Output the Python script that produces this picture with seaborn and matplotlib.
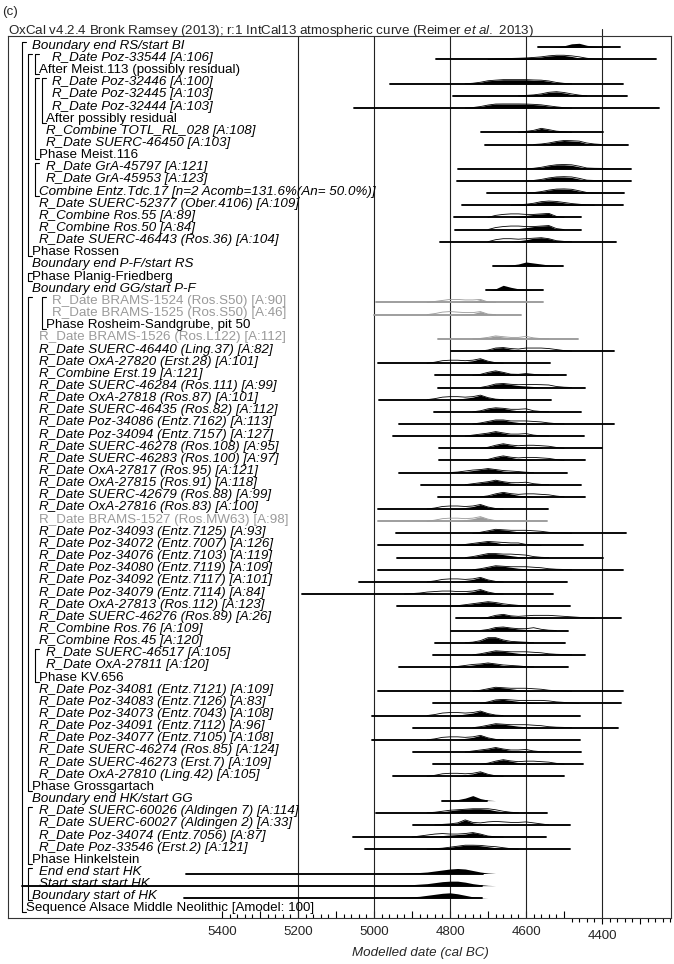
import numpy as np
import pandas as pd
import matplotlib
matplotlib.use("Agg")
import matplotlib.pyplot as plt
import matplotlib.transforms as mtrans
import seaborn as sns

# ---------------- data ----------------
labels = [
    "Boundary end RS/start BI",
    "R_Date Poz-33544 [A:106]",
    "After Meist.113 (possibly residual)",
    "R_Date Poz-32446 [A:100]",
    "R_Date Poz-32445 [A:103]",
    "R_Date Poz-32444 [A:103]",
    "After possibly residual",
    "R_Combine TOTL_RL_028 [A:108]",
    "R_Date SUERC-46450 [A:103]",
    "Phase Meist.116",
    "R_Date GrA-45797 [A:121]",
    "R_Date GrA-45953 [A:123]",
    "Combine Entz.Tdc.17 [n=2 Acomb=131.6%(An= 50.0%)]",
    "R_Date SUERC-52377 (Ober.4106) [A:109]",
    "R_Combine Ros.55 [A:89]",
    "R_Combine Ros.50 [A:84]",
    "R_Date SUERC-46443 (Ros.36) [A:104]",
    "Phase Rossen",
    "Boundary end P-F/start RS",
    "Phase Planig-Friedberg",
    "Boundary end GG/start P-F",
    "R_Date BRAMS-1524 (Ros.S50) [A:90]",
    "R_Date BRAMS-1525 (Ros.S50) [A:46]",
    "Phase Rosheim-Sandgrube, pit 50",
    "R_Date BRAMS-1526 (Ros.L122) [A:112]",
    "R_Date SUERC-46440 (Ling.37) [A:82]",
    "R_Date OxA-27820 (Erst.28) [A:101]",
    "R_Combine Erst.19 [A:121]",
    "R_Date SUERC-46284 (Ros.111) [A:99]",
    "R_Date OxA-27818 (Ros.87) [A:101]",
    "R_Date SUERC-46435 (Ros.82) [A:112]",
    "R_Date Poz-34086 (Entz.7162) [A:113]",
    "R_Date Poz-34094 (Entz.7157) [A:127]",
    "R_Date SUERC-46278 (Ros.108) [A:95]",
    "R_Date SUERC-46283 (Ros.100) [A:97]",
    "R_Date OxA-27817 (Ros.95) [A:121]",
    "R_Date OxA-27815 (Ros.91) [A:118]",
    "R_Date SUERC-42679 (Ros.88) [A:99]",
    "R_Date OxA-27816 (Ros.83) [A:100]",
    "R_Date BRAMS-1527 (Ros.MW63) [A:98]",
    "R_Date Poz-34093 (Entz.7125) [A:93]",
    "R_Date Poz-34072 (Entz.7007) [A:126]",
    "R_Date Poz-34076 (Entz.7103) [A:119]",
    "R_Date Poz-34080 (Entz.7119) [A:109]",
    "R_Date Poz-34092 (Entz.7117) [A:101]",
    "R_Date Poz-34079 (Entz.7114) [A:84]",
    "R_Date OxA-27813 (Ros.112) [A:123]",
    "R_Date SUERC-46276 (Ros.89) [A:26]",
    "R_Combine Ros.76 [A:109]",
    "R_Combine Ros.45 [A:120]",
    "R_Date SUERC-46517 [A:105]",
    "R_Date OxA-27811 [A:120]",
    "Phase KV.656",
    "R_Date Poz-34081 (Entz.7121) [A:109]",
    "R_Date Poz-34083 (Entz.7126) [A:83]",
    "R_Date Poz-34073 (Entz.7043) [A:108]",
    "R_Date Poz-34091 (Entz.7112) [A:96]",
    "R_Date Poz-34077 (Entz.7105) [A:108]",
    "R_Date SUERC-46274 (Ros.85) [A:124]",
    "R_Date SUERC-46273 (Erst.7) [A:109]",
    "R_Date OxA-27810 (Ling.42) [A:105]",
    "Phase Grossgartach",
    "Boundary end HK/start GG",
    "R_Date SUERC-60026 (Aldingen 7) [A:114]",
    "R_Date SUERC-60027 (Aldingen 2) [A:33]",
    "R_Date Poz-34074 (Entz.7056) [A:87]",
    "R_Date Poz-33546 (Erst.2) [A:121]",
    "Phase Hinkelstein",
    "End end start HK",
    "Start start start HK",
    "Boundary start of HK",
    "Sequence Alsace Middle Neolithic [Amodel: 100]",
]

# nesting depth of each label
depth = [1, 4, 2, 4, 4, 4, 3, 3, 3, 2, 3, 3, 2, 2, 2, 2, 2, 1, 1, 1, 1,
         4, 4, 3] + [2] * 26 + [3, 3, 2] + [2] * 8 + [1, 1, 2, 2, 2, 2, 1, 2, 2, 1, 0]

grey_rows = [21, 22, 24, 39]
upright_prefixes = ("After", "Phase", "Sequence")

# groups drawn as brackets: (first row, label row, depth)
groups = [(0, 71, 0), (1, 17, 1), (1, 2, 2), (3, 9, 2), (3, 6, 3), (10, 12, 2),
          (19, 19, 1), (21, 61, 1), (21, 23, 3), (50, 52, 2), (63, 67, 1), (68, 70, 1)]

# plotted range of each distribution (cal BC): row -> (from, to)
ranges = {
    0: (4568, 4353), 1: (4837, 4259), 3: (4958, 4344), 4: (4791, 4333), 5: (5053, 4250),
    7: (4719, 4397), 8: (4708, 4331), 10: (4778, 4325), 11: (4781, 4325), 12: (4702, 4342),
    13: (4768, 4346), 14: (4790, 4454), 15: (4787, 4456), 16: (4826, 4363), 18: (4686, 4502),
    20: (4705, 4556), 21: (4996, 4555), 22: (5000, 4612), 24: (4831, 4462), 25: (4798, 4369),
    26: (4989, 4537), 27: (4839, 4496), 28: (4831, 4445), 29: (4987, 4535), 30: (4841, 4456),
    31: (4934, 4369), 32: (4951, 4448), 33: (4829, 4401), 34: (4829, 4445), 35: (4933, 4491),
    36: (4876, 4456), 37: (4831, 4445), 38: (4989, 4543), 39: (4990, 4546), 40: (4942, 4338),
    41: (4989, 4451), 42: (4940, 4398), 43: (4989, 4346), 44: (5040, 4491), 45: (5189, 4528),
    46: (4939, 4484), 47: (4784, 4351), 48: (4798, 4490), 49: (4839, 4497), 50: (4846, 4445),
    51: (4934, 4490), 53: (4989, 4346), 54: (4844, 4350), 55: (5004, 4458), 56: (4897, 4357),
    57: (5005, 4458), 58: (4898, 4456), 59: (4844, 4451), 60: (4949, 4500), 62: (4822, 4702),
    63: (4995, 4544), 64: (4897, 4484), 65: (5056, 4548), 66: (5024, 4484), 68: (5495, 4712),
    69: (5926, 4717), 70: (5500, 4717),
}

# modelled (posterior) density, read every 20 years from the first year given
posterior = {
    0: (4540, [0, 0.5, 1.5, 3.5, 4, 2, 1, 0.5, 0]),
    1: (4700, [0, 0.4, 0.7, 1, 1.2, 1.5, 2, 2.5, 3.5, 4, 4, 3, 1.5, 0.5, 0]),
    3: (4760, [0, 0.5, 1.5, 3, 3.5, 4, 4, 4, 4, 3.5, 3.5, 2.5, 1, 0.3, 0]),
    4: (4620, [0, 0.5, 1, 2, 3.5, 4, 3, 1.5, 0.5, 0]),
    5: (4760, [0, 0.5, 1.5, 3, 4, 4, 4, 4, 4, 3.5, 3, 2, 1, 0.3, 0]),
    7: (4620, [0, 1, 2, 4, 2.5, 1, 0.5, 0]),
    8: (4580, [0, 0.5, 1.5, 3, 4, 3.5, 3, 1, 0.3, 0]),
    10: (4600, [0, 0.5, 1.5, 3, 4, 4, 3.5, 2, 0.5, 0.3, 0.3, 0]),
    11: (4600, [0, 0.5, 1.5, 3, 4, 4, 3.5, 2, 0.5, 0.3, 0.3, 0]),
    12: (4600, [0, 0.5, 1.5, 3, 4, 4, 3.5, 2, 0.5, 0.2, 0]),
    13: (4640, [0, 0.5, 1, 2, 3.5, 4, 3.5, 2.5, 1.5, 0.8, 0.3, 0]),
    14: (4640, [0, 1, 2, 3, 3.5, 4, 0.5, 0]),
    15: (4640, [0, 1, 2, 3, 3.5, 4, 0.5, 0]),
    16: (4640, [0, 1, 2, 3.5, 4, 3, 1, 0.3, 0]),
    18: (4660, [0, 1, 2, 4, 3, 2, 1, 0.3, 0]),
    20: (4700, [0, 1.5, 5, 3, 1.5, 0.8, 0.3, 0]),
    21: (4800, [0, 0.3, 0.6, 1, 3, 0.5, 0]),
    22: (4800, [0, 0.3, 0.6, 1, 3, 0.5, 0]),
    24: (4740, [0, 0.5, 1.5, 3, 2, 1, 0.5, 0.3, 0]),
    25: (4720, [0, 1, 3, 3.5, 2, 1, 0.3, 0]),
    26: (4800, [0, 0.5, 1.5, 2.5, 4.5, 2, 0.5, 0]),
    27: (4740, [0, 1, 3, 4.5, 3, 1, 0.5, 0.5, 0.3, 0]),
    28: (4720, [0, 1.5, 3.5, 4, 3, 2, 1.5, 1, 0.5, 0.2, 0]),
    29: (4800, [0, 0.5, 1.5, 2.5, 4.5, 2, 0.5, 0]),
    30: (4740, [0, 1, 3, 4, 3.5, 2, 1, 0.5, 0]),
    31: (4740, [0, 1, 2.5, 4, 4, 2.5, 1.5, 1, 0.5, 0.2, 0]),
    32: (4760, [0, 1, 2, 3, 4.5, 3, 1.5, 0.8, 0.3, 0]),
    33: (4720, [0, 1, 3, 4.5, 3, 1.5, 1, 0.5, 0.2, 0]),
    34: (4720, [0, 1, 3, 4.5, 3, 1.5, 1, 0.5, 0.2, 0]),
    35: (4800, [0, 0.5, 1, 2, 3, 4, 3, 1.5, 0.8, 0.3, 0]),
    36: (4760, [0, 1, 2, 3, 4.5, 3, 1.5, 1, 0.5, 0]),
    37: (4720, [0, 1, 3, 4.5, 3, 1.5, 1, 0.5, 0.2, 0]),
    38: (4800, [0, 0.5, 1.5, 2.5, 4.5, 2, 0.5, 0]),
    39: (4800, [0, 0.5, 1.5, 2.5, 4.5, 2, 0.5, 0]),
    40: (4740, [0, 1, 2.5, 4, 3.5, 2.5, 1.5, 1, 0.5, 0.3, 0]),
    41: (4780, [0, 1, 2, 3, 4, 3, 1.5, 1, 0.5, 0]),
    42: (4760, [0, 1, 2.5, 4, 4, 3, 2, 1, 0.5, 0]),
    43: (4740, [0, 1, 2.5, 4, 3.5, 2.5, 1.5, 1, 0.5, 0.3, 0]),
    44: (4800, [0, 0.5, 1.5, 2.5, 4.5, 2, 0.5, 0]),
    45: (4800, [0, 0.5, 1.5, 2.5, 4.5, 2, 0.5, 0]),
    46: (4800, [0, 0.5, 1.5, 2.5, 3.5, 4.5, 3.5, 2, 1, 0.5, 0]),
    47: (4720, [0, 1, 3, 4, 2.5, 1.5, 1, 1, 0.5, 0.3, 0]),
    48: (4720, [0, 1, 3, 3.5, 2.5, 1.5, 1, 1, 0.5, 0]),
    49: (4760, [0, 0.5, 2, 5, 5, 2.5, 1, 0.5, 0.3, 0]),
    50: (4740, [0, 1, 2.5, 4, 3.5, 2.5, 1.5, 1, 0.5, 0.3, 0]),
    51: (4800, [0, 0.5, 1, 2, 3, 4, 3, 1.5, 0.8, 0.3, 0]),
    53: (4740, [0, 1, 2.5, 4, 3.5, 2.5, 1.5, 1, 0.5, 0.3, 0]),
    54: (4720, [0, 1.5, 3.5, 4, 3, 2, 1.5, 1, 0.5, 0.3, 0]),
    55: (4800, [0, 0.5, 1.5, 2.5, 4.5, 2, 0.5, 0]),
    56: (4740, [0, 1, 2.5, 4, 3.5, 2.5, 1.5, 1, 0.5, 0.3, 0]),
    57: (4800, [0, 0.5, 1.5, 2.5, 4.5, 2, 0.5, 0]),
    58: (4760, [0, 1, 2, 3, 4.5, 3, 1.5, 1, 0.5, 0]),
    59: (4720, [0, 1, 3, 4.5, 3, 1.5, 1, 0.5, 0.2, 0]),
    60: (4800, [0, 0.5, 1.5, 2.5, 4.5, 2, 0.5, 0]),
    62: (4800, [0, 1, 2.5, 5, 2, 0.5, 0]),
    63: (4860, [0, 0.5, 1, 2, 3, 3.5, 4, 4, 3.5, 2, 1, 0.5, 0]),
    64: (4840, [0, 0.5, 1, 2, 5, 2, 1, 0.5, 0.3, 0.2, 0]),
    65: (4900, [0, 0.3, 0.6, 1, 1.5, 2, 2.5, 3, 4.5, 3, 1, 0.3, 0]),
    66: (4860, [0, 0.5, 1, 2, 3, 4, 4, 3.5, 2.5, 1.5, 0.5, 0]),
    68: (4940, [0, 0.3, 0.6, 1, 1.5, 2.5, 3.5, 4.5, 5, 4.5, 3, 1.5, 0.5, 0]),
    69: (4960, [0, 0.3, 0.6, 1, 1.5, 2, 3, 4, 4.5, 4.5, 3.5, 2, 1, 0.3, 0]),
    70: (4960, [0, 0.3, 0.6, 1, 1.5, 2.5, 3.5, 4.5, 5, 4, 2.5, 1, 0.3, 0]),
}

# unmodelled (likelihood) density, outline only
likelihood = {
    1: (4700, [0, 0.4, 0.7, 1, 1.2, 1.5, 2, 2.6, 3.6, 4.2, 4.2, 3.6, 2.6, 1.2, 0.4, 0]),
    3: (4760, [0, 0.5, 1.5, 3, 3.6, 4.1, 4.1, 4.1, 4.1, 3.8, 3.6, 2.8, 1.3, 0.4, 0]),
    4: (4620, [0, 0.5, 1, 2, 3.6, 4.2, 3.4, 2, 0.8, 0]),
    5: (4760, [0, 0.5, 1.5, 3, 4, 4.1, 4.1, 4.1, 4, 3.7, 3.2, 2.2, 1.2, 0.4, 0]),
    7: (4620, [0, 1, 2, 4, 2.7, 1.2, 0.6, 0]),
    8: (4580, [0, 0.5, 1.5, 3, 4, 3.8, 3.4, 1.5, 0.5, 0]),
    10: (4600, [0, 0.5, 1.5, 3, 4, 4.3, 4, 2.6, 0.8, 0.5, 0.4, 0]),
    11: (4600, [0, 0.5, 1.5, 3, 4, 4.3, 4, 2.6, 0.8, 0.5, 0.4, 0]),
    12: (4600, [0, 0.5, 1.5, 3, 4, 4.2, 3.8, 2.3, 0.6, 0.2, 0]),
    13: (4640, [0, 0.5, 1, 2, 3.6, 4.2, 3.8, 2.8, 1.7, 1, 0.4, 0]),
    14: (4700, [0, 2, 3, 3.5, 3.5, 3, 3, 3.5, 4, 1, 0]),
    15: (4700, [0, 2, 3, 3.5, 3.5, 3, 3, 3.5, 4, 1, 0]),
    16: (4700, [0, 2, 3, 3, 2.5, 3, 3.5, 4, 3, 1, 0.3, 0]),
    21: (4860, [0, 1, 2, 3, 3, 2.5, 2.5, 3, 0.5, 0]),
    22: (4860, [0, 1, 2.5, 3, 2.5, 2, 2, 3, 0.5, 0]),
    24: (4740, [0, 0.5, 1.5, 3, 2.2, 1.5, 1.5, 2.5, 1, 0.3, 0]),
    25: (4720, [0, 1, 3, 3.5, 2.5, 2, 3, 3, 3, 2.5, 1.5, 0.5, 0]),
    26: (4860, [0, 1, 2.5, 3, 3, 2.5, 3, 4.5, 2, 0.5, 0]),
    27: (4740, [0, 1, 3, 4.5, 3, 1.2, 1, 1.8, 1, 0.3, 0]),
    28: (4720, [0, 1.5, 3.5, 4, 3.2, 2.8, 3, 3, 2.8, 2.5, 1, 0.3, 0]),
    29: (4860, [0, 1, 2.5, 3, 3, 2.5, 3, 4.5, 2, 0.5, 0]),
    30: (4740, [0, 1, 3, 4, 3.5, 2.5, 2.5, 3, 1, 0.3, 0]),
    31: (4740, [0, 1, 2.5, 4, 4, 3, 3, 3, 2.5, 2, 1, 0.3, 0]),
    32: (4760, [0, 1, 2, 3, 4.5, 3.2, 2, 2, 2.5, 1, 0.3, 0]),
    33: (4720, [0, 1, 3, 4.5, 3.2, 2.5, 3, 3, 2.5, 2, 0.8, 0]),
    34: (4720, [0, 1, 3, 4.5, 3.2, 2.5, 3, 3, 2.5, 2, 0.8, 0]),
    35: (4800, [0, 0.5, 1.5, 2.5, 3, 4, 3, 2, 1.5, 1, 0.3, 0]),
    36: (4760, [0, 1, 2, 3, 4.5, 3, 2, 2, 2.5, 1, 0.3, 0]),
    37: (4720, [0, 1, 3, 4.5, 3.2, 2.5, 3, 3, 2.5, 2, 0.8, 0]),
    38: (4860, [0, 1, 2.5, 3, 3, 2.5, 3, 4.5, 2, 0.5, 0]),
    39: (4860, [0, 1, 2.5, 3, 3, 2.5, 3, 4.5, 2, 0.5, 0]),
    40: (4740, [0, 1, 2.5, 4, 3.5, 3, 3, 3, 2.5, 2, 1, 0.5, 0.3, 0]),
    41: (4780, [0, 1, 2, 3, 4, 3.5, 3, 2.5, 2.5, 1, 0.3, 0]),
    42: (4760, [0, 1, 2.5, 4, 4, 3.5, 3.5, 3, 2.5, 1, 0.3, 0]),
    43: (4740, [0, 1, 2.5, 4, 3.5, 3, 3, 3, 2.5, 2, 1, 0.5, 0.3, 0]),
    44: (4860, [0, 1, 2.5, 3, 3, 2.5, 3, 4.5, 2, 0.5, 0]),
    45: (4920, [0, 0.5, 1, 2, 2.5, 3, 3, 2.5, 2.5, 3, 4.5, 2, 0.5, 0]),
    46: (4800, [0, 0.5, 1.5, 2.5, 3.5, 4.5, 3.7, 2.4, 1.5, 0.8, 0]),
    47: (4720, [0, 1, 3, 4, 2.5, 2, 2.5, 3, 3, 3, 2.5, 2, 1.5, 1, 0.5, 0]),
    48: (4720, [0, 1, 3, 3.5, 2.5, 1.8, 1.8, 2.8, 1.2, 0.3, 0]),
    49: (4760, [0, 0.5, 2, 5, 5, 2.7, 1.3, 0.8, 0.4, 0]),
    50: (4740, [0, 1, 2.5, 4, 3.5, 3, 3, 3, 2.5, 2, 1, 0.5, 0.3, 0]),
    51: (4800, [0, 0.5, 1.5, 2.5, 3, 4, 3, 2, 1.5, 1, 0.3, 0]),
    53: (4740, [0, 1, 2.5, 4, 3.5, 3, 3, 3, 2.5, 2, 1, 0.5, 0.3, 0]),
    54: (4720, [0, 1.5, 3.5, 4, 3.5, 3, 3, 3, 3, 2.5, 1.5, 1, 0.5, 0]),
    55: (4860, [0, 1, 2.5, 3, 3, 2.5, 3, 4.5, 2, 0.5, 0]),
    56: (4740, [0, 1, 2.5, 4, 3.5, 3, 3, 3, 2.5, 2, 1, 0.5, 0.3, 0]),
    57: (4860, [0, 1, 2.5, 3, 3, 2.5, 3, 4.5, 2, 0.5, 0]),
    58: (4760, [0, 1, 2, 3, 4.5, 3, 2, 2, 2.5, 1, 0.3, 0]),
    59: (4720, [0, 1, 3, 4.5, 3.2, 2.5, 3, 3, 2.5, 2, 0.8, 0]),
    60: (4860, [0, 1, 2.5, 3, 3, 2.5, 3, 4.5, 2, 0.5, 0]),
    63: (4860, [0, 0.5, 1.5, 2.5, 3, 3.5, 4, 4, 4, 3, 1.5, 0.5, 0]),
    64: (4840, [0, 0.5, 1, 2, 5, 2.5, 2, 3, 3.5, 3, 2.5, 2.5, 3, 2, 1, 0]),
    65: (4900, [0, 1, 2, 3, 3.5, 3, 3, 3.5, 4.5, 3, 1, 0.3, 0]),
    66: (4860, [0, 0.5, 1, 2, 3, 4, 4, 3.8, 3, 2.5, 1.5, 0.5, 0]),
}

grid_years = [5200, 5000, 4800, 4600, 4400]
tick_labels_left = {5400: "5400", 5200: "5200", 5000: "5000", 4800: "4800", 4600: "4600"}
tick_labels_right = {4400: "4400"}
title_text = "OxCal v4.2.4 Bronk Ramsey (2013); r:1 IntCal13 atmospheric curve (Reimer $\\mathit{et\\ al.}$ 2013)"
panel_text = "(c)"
xlabel_text = "Modelled date (cal BC)"

# ---------------- style / layout ----------------
sns.set_style("white")
plt.rcParams["font.family"] = ["Liberation Sans", "DejaVu Sans"]
plt.rcParams["mathtext.fontset"] = "custom"
plt.rcParams["mathtext.rm"] = "Liberation Sans"
plt.rcParams["mathtext.it"] = "Liberation Sans:italic"

FW, FH = 674, 964
AX_L, AX_R, AX_T, AX_B = 8, 671, 36, 918
ROW0, ROW_STEP = 47.3, 12.15
X5200, PX_PER_YEAR = 298.0, 0.38
FS = 9.6
H_SCALE = 1.0 / ROW_STEP
GREY = "#9a9a9a"

fig = plt.figure(figsize=(FW / 100, FH / 100), dpi=100)
ax = fig.add_axes([AX_L / FW, 1 - AX_B / FH, (AX_R - AX_L) / FW, (AX_B - AX_T) / FH])

def px2ax(px):
    return (px - AX_L) / (AX_R - AX_L)

blend = mtrans.blended_transform_factory(ax.transAxes, ax.transData)

# range lines through seaborn
recs = []
for r, (a, b) in ranges.items():
    tone = "grey" if r in grey_rows else "black"
    recs.append(dict(row=r, year=a, tone=tone))
    recs.append(dict(row=r, year=b, tone=tone))
df = pd.DataFrame(recs)
sns.lineplot(data=df, x="year", y="row", units="row", hue="tone",
             palette={"black": "black", "grey": GREY}, estimator=None,
             sort=False, lw=1.35, legend=False, ax=ax, zorder=3)

# densities
for r, (start, h) in likelihood.items():
    yrs = start - 20 * np.arange(len(h))
    c = GREY if r in grey_rows else "black"
    ax.plot(yrs, r - np.array(h) * H_SCALE, color=c, lw=0.6, zorder=4)
for r, (start, h) in posterior.items():
    yrs = start - 20 * np.arange(len(h))
    c = GREY if r in grey_rows else "black"
    ax.fill_between(yrs, r, r - np.array(h) * H_SCALE, color=c, lw=0, zorder=5)

# grid lines
for g in grid_years:
    ax.axvline(g, ymin=0, ymax=(1.008 if g == 4400 else 1), color="#222222",
               lw=0.8, zorder=1, clip_on=False)

# labels
for i, lab in enumerate(labels):
    grey = i in grey_rows
    style = "normal" if (grey or lab.startswith(upright_prefixes)) else "italic"
    ax.text(px2ax(25.5 + 6.7 * depth[i]), i + 0.12, lab, transform=blend,
            va="baseline", ha="left", fontsize=FS, fontstyle=style,
            color=GREY if grey else "black", zorder=6)

# brackets
for top, bot, d in groups:
    bx = 21.5 + 6.7 * d
    ax.plot([px2ax(bx + 4), px2ax(bx), px2ax(bx), px2ax(bx + 4)],
            [top - 0.46, top - 0.46, bot + 0.2, bot + 0.2],
            transform=blend, color="black", lw=0.8, zorder=6, clip_on=False)

# axes limits
ax.set_xlim(5200 + (X5200 - AX_L) / PX_PER_YEAR, 5200 - (AX_R - X5200) / PX_PER_YEAR)
ax.set_ylim((AX_B - ROW0) / ROW_STEP, (AX_T - ROW0) / ROW_STEP)
ax.set_xlabel("")
ax.set_ylabel("")
ax.set_yticks([])

for s in ax.spines.values():
    s.set_color("#333333")
    s.set_linewidth(0.8)

left_major = list(range(5400, 4499, -100))
left_minor = [y for y in range(5400, 4499, -20) if y % 100]
ax.set_xticks(left_major)
ax.set_xticklabels([tick_labels_left.get(y, "") for y in left_major], fontsize=FS)
ax.set_xticks(left_minor, minor=True)
ax.tick_params(axis="x", which="both", bottom=True, top=False)
ax.tick_params(axis="x", which="major", direction="in", length=5, width=0.8, pad=5.5, color="black")
ax.tick_params(axis="x", which="minor", direction="in", length=3, width=0.8, color="black")

sec = ax.secondary_xaxis("bottom")
right_major = [4400, 4300]
right_minor = [y for y in range(4480, 4219, -20) if y % 100]
sec.set_xticks(right_major)
sec.set_xticklabels([tick_labels_right.get(y, "") for y in right_major], fontsize=FS)
sec.set_xticks(right_minor, minor=True)
sec.tick_params(axis="x", which="both", bottom=True)
sec.tick_params(axis="x", which="major", direction="out", length=4, width=0.8, pad=4.5, color="black")
sec.tick_params(axis="x", which="minor", direction="out", length=3, width=0.8, color="black")
sec.spines["bottom"].set_visible(False)

fig.text(2 / FW, 1 - 15 / FH, panel_text, fontsize=FS, va="baseline", ha="left")
fig.text(8 / FW, 1 - 34 / FH, title_text, fontsize=FS, va="baseline", ha="left")
fig.text(420 / FW, 1 - 953 / FH, xlabel_text, fontsize=FS, fontstyle="italic", va="center", ha="center")

fig.savefig("out.png", dpi=100)
